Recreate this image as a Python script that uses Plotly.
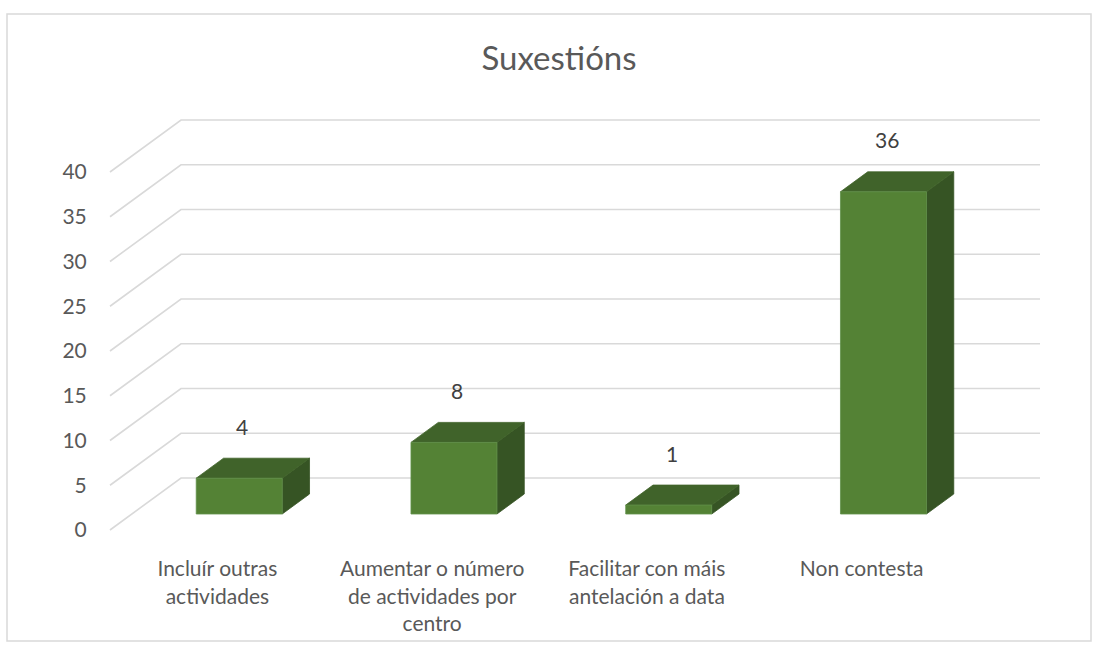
import plotly.graph_objects as go

# ---------------- data ----------------
categories = ["Incluír outras actividades",
              "Aumentar o número de actividades por centro",
              "Facilitar con máis antelación a data",
              "Non contesta"]
tick_labels = ["Incluír outras<br>actividades",
               "Aumentar o número<br>de actividades por<br>centro",
               "Facilitar con máis<br>antelación a data",
               "Non contesta"]
values = [4, 8, 1, 36]
y_ticks = [0, 5, 10, 15, 20, 25, 30, 35, 40]
title_text = "Suxestións"

# ---------------- layout geometry ----------------
W, H = 1099, 648
L, R, T, B = 100, 49, 110, 110
PW, PH = W - L - R, H - T - B
FRONT_X0 = 110.0   # pixel of x = -0.5 (front edge of floor)
SX = 214.75        # pixels per category
Y0_PIX = 530.0     # pixel of value 0 on the front plane
SY = 8.95          # pixels per unit
xmin = -0.5 - (FRONT_X0 - L) / SX
xmax = -0.5 + (L + PW - FRONT_X0) / SX
ymin = -((T + PH) - Y0_PIX) / SY
ymax = (Y0_PIX - T) / SY

DX = 71.0 / SX     # depth offset in x units
DY = 52.0 / SY     # depth offset in y units
F1, F2 = 16.0 / 52.0, 36.0 / 52.0  # bar depth fractions
HW = 43.0 / SX     # half bar width

GRID = "#d9d9d9"
TXT = "#595959"
FRONT = "#548235"
TOP = "#40632a"
SIDE = "#365424"
EDGE = "#62924a"

fig = go.Figure()

# gridlines (3D walls)
gx, gy = [], []
n = len(categories)
for v in y_ticks:
    gx += [-0.5, -0.5 + DX, n - 0.5 + DX, None]
    gy += [v, v + DY, v + DY, None]
fig.add_trace(go.Scatter(x=gx, y=gy, mode="lines", line=dict(color=GRID, width=1.6),
                         hoverinfo="skip", showlegend=False, cliponaxis=False))

# bars
for i, v in enumerate(values):
    xl = i - HW + F1 * DX
    xr = i + HW + F1 * DX
    yb = F1 * DY
    yt = v + F1 * DY
    ddx = (F2 - F1) * DX
    ddy = (F2 - F1) * DY
    # side
    fig.add_trace(go.Scatter(x=[xr, xr, xr + ddx, xr + ddx, xr],
                             y=[yb, yt, yt + ddy, yb + ddy, yb],
                             mode="lines", fill="toself", fillcolor=SIDE,
                             line=dict(color=SIDE, width=0.8),
                             hoverinfo="skip", showlegend=False))
    # top
    fig.add_trace(go.Scatter(x=[xl, xr, xr + ddx, xl + ddx, xl],
                             y=[yt, yt, yt + ddy, yt + ddy, yt],
                             mode="lines", fill="toself", fillcolor=TOP,
                             line=dict(color=TOP, width=0.8),
                             hoverinfo="skip", showlegend=False))
    # front
    fig.add_trace(go.Scatter(x=[xl, xr, xr, xl, xl],
                             y=[yb, yb, yt, yt, yb],
                             mode="lines", fill="toself", fillcolor=FRONT,
                             line=dict(color=EDGE, width=0.8),
                             name=categories[i], hoverinfo="name+y",
                             showlegend=False))
    fig.add_annotation(x=i + F1 * DX + 0.015, y=v + F2 * DY, text=str(v),
                       showarrow=False, yanchor="middle", yshift=32,
                       font=dict(family="Lato", size=21, color="#404040"))

# chart border
fig.add_shape(type="rect", xref="paper", yref="paper",
              x0=(7 - L) / PW, x1=(1091 - L) / PW,
              y0=((T + PH) - 641) / PH, y1=((T + PH) - 14) / PH,
              line=dict(color=GRID, width=1.5), layer="below")

fig.update_layout(
    width=W, height=H,
    margin=dict(l=L, r=R, t=T, b=B, pad=0),
    paper_bgcolor="white", plot_bgcolor="white",
    font=dict(family="Lato", size=21, color=TXT),
    title=dict(text=title_text, x=559 / W, xanchor="center",
               y=1 - 58 / H, yanchor="middle", yref="container",
               font=dict(family="Lato", size=33, color=TXT)),
    xaxis=dict(range=[xmin, xmax], tickvals=list(range(n)), ticktext=tick_labels,
               showgrid=False, zeroline=False, showline=False,
               ticks="outside", ticklen=12, tickcolor="rgba(0,0,0,0)",
               tickfont=dict(family="Lato", size=21, color=TXT), fixedrange=True),
    yaxis=dict(range=[ymin, ymax], tickvals=y_ticks,
               showgrid=False, zeroline=False, showline=False,
               ticks="outside", ticklen=8, tickcolor="rgba(0,0,0,0)",
               tickfont=dict(family="Lato", size=21, color=TXT), fixedrange=True),
    showlegend=False,
)

fig.write_html("out.html", config={"displayModeBar": False},
               post_script="document.body.style.margin='0';document.body.style.overflow='hidden';")
